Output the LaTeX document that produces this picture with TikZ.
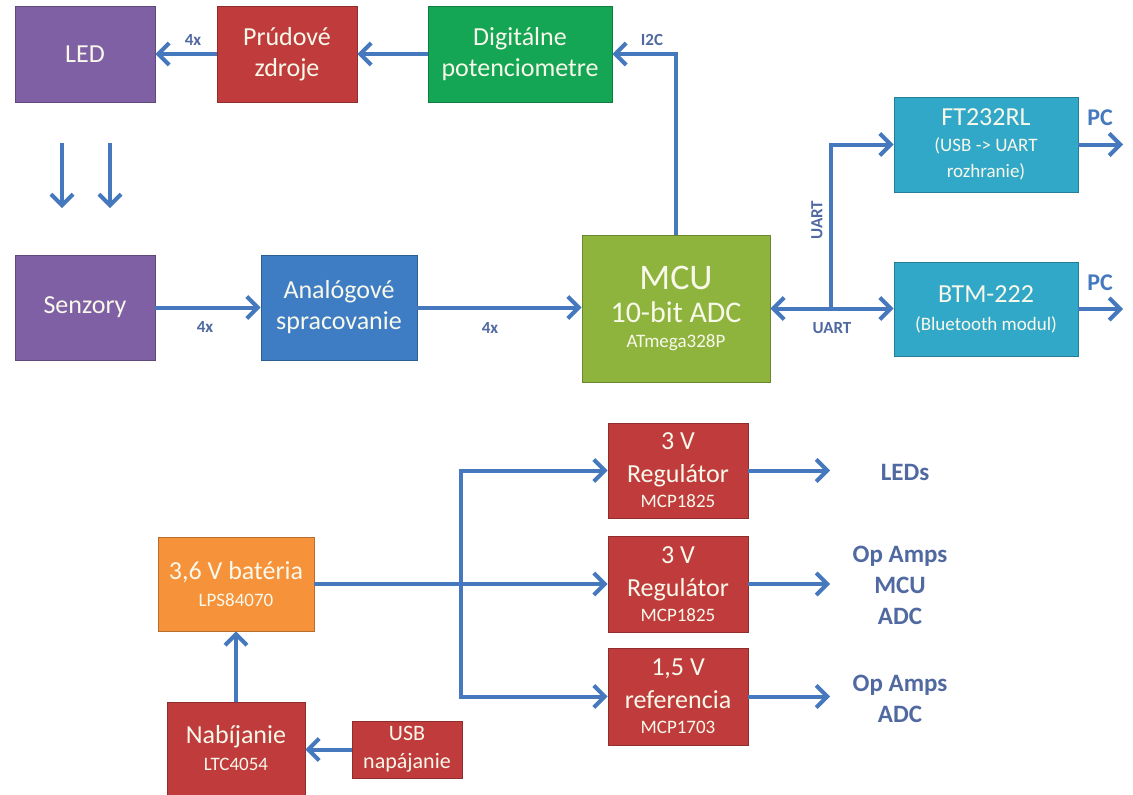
\documentclass[tikz,border=0pt]{standalone}
\usepackage{fontspec}
\setmainfont{Carlito}
\usetikzlibrary{arrows.meta}
\definecolor{cpurple}{RGB}{128,96,164}
\definecolor{cred}{RGB}{192,60,60}
\definecolor{cgreen}{RGB}{20,166,84}
\definecolor{cblue}{RGB}{62,125,195}
\definecolor{cmcu}{RGB}{142,180,62}
\definecolor{cteal}{RGB}{50,168,200}
\definecolor{corange}{RGB}{246,146,58}
\definecolor{arrowc}{RGB}{70,120,190}
\definecolor{lblc}{RGB}{80,105,160}
\definecolor{boxtext}{RGB}{248,248,235}
\newcommand\dgbig{\fontsize{26}{31}\selectfont}
\newcommand\dgsub{\fontsize{19}{22}\selectfont}
\newcommand\dglbl{\fontsize{17}{20}\selectfont\bfseries}
\newcommand\dgout{\fontsize{25}{31}\selectfont\bfseries}
\begin{document}
\begin{tikzpicture}[x=1pt,y=-1pt,
  box/.style={draw=#1!75!black, line width=0.8pt, fill=#1, text=boxtext, align=center, inner sep=0pt, font=\dgbig},
  arr/.style={draw=arrowc, line width=4pt, -{Straight Barb[length=11pt,width=22pt]}},
  dbl/.style={draw=arrowc, line width=4pt, {Straight Barb[length=11pt,width=22pt]}-{Straight Barb[length=11pt,width=22pt]}},
  lbl/.style={text=lblc, font=\dglbl, inner sep=0pt},
  pcl/.style={text=arrowc, font=\fontsize{24}{28}\selectfont\bfseries, inner sep=0pt},
  outl/.style={text=lblc, font=\dgout, align=center, inner sep=0pt}
]
\useasboundingbox (0,0) rectangle (1133,795);
% top row
\node[box=cpurple, minimum width=140pt, minimum height=96pt] (led) at (85,54) {LED};
\node[box=cred, minimum width=140pt, minimum height=96pt] (prud) at (287,54) {Prúdové\\zdroje};
\node[box=cgreen, minimum width=184pt, minimum height=96pt] (digi) at (520,54) {Digitálne\\potenciometre};
% middle row
\node[box=cpurple, minimum width=140pt, minimum height=105pt] (senz) at (85,307.5) {Senzory};
\node[box=cblue, minimum width=156pt, minimum height=105pt] (anal) at (339,307.5) {Analógové\\spracovanie};
\node[box=cmcu, minimum width=188pt, minimum height=147pt] (mcu) at (676,308.5) {{\fontsize{36}{38}\selectfont MCU}\\[2pt]{\fontsize{30}{34}\selectfont 10-bit ADC}\\[-6pt]{\dgsub ATmega328P}};
\node[box=cteal, minimum width=184pt, minimum height=95pt] (ft) at (986,144.5) {FT232RL\\[-5pt]{\dgsub (USB -> UART}\\[-5pt]{\dgsub rozhranie)}};
\node[box=cteal, minimum width=184pt, minimum height=94pt] (btm) at (986,309) {BTM-222\\[-3pt]{\dgsub (Bluetooth modul)}};
% power section
\node[box=corange, minimum width=156pt, minimum height=94pt] (bat) at (236,584) {3,6 V batéria\\[-4pt]{\dgsub LPS84070}};
\node[box=cred, minimum width=138pt, minimum height=93pt] (nab) at (236,748.5) {Nabíjanie\\[-4pt]{\dgsub LTC4054}};
\node[box=cred, minimum width=110pt, minimum height=57pt, font=\fontsize{22}{28}\selectfont] (usb) at (407,749.5) {USB\\napájanie};
\node[box=cred, minimum width=140pt, minimum height=95pt] (reg1) at (678,470.5) {3 V\\[2pt]Regulátor\\[-6pt]{\dgsub MCP1825}};
\node[box=cred, minimum width=140pt, minimum height=96pt] (reg2) at (678,584) {3 V\\[2pt]Regulátor\\[-6pt]{\dgsub MCP1825}};
\node[box=cred, minimum width=140pt, minimum height=97pt] (ref) at (678,696.5) {1,5 V\\[2pt]referencia\\[-6pt]{\dgsub MCP1703}};
% labels
\node[lbl] (l4a) at (193,40) {4x};
\node[lbl] (l4b) at (205,327) {4x};
\node[lbl] (l4c) at (490,328) {4x};
\node[lbl] (li2c) at (652,40) {I2C};
\node[lbl, rotate=90] (lu1) at (817,220) {UART};
\node[lbl] (lu2) at (832,328) {UART};
\node[pcl] (pc1) at (1100,118) {PC};
\node[pcl] (pc2) at (1100,283) {PC};
\node[outl] (o1t) at (905,472) {LEDs};
\node[outl] (o2t) at (900,585) {Op Amps\\MCU\\ADC};
\node[outl] (o3t) at (900,698.5) {Op Amps\\ADC};
% free coordinates
\coordinate (d1s) at (62,143); \coordinate (d1e) at (62,208);
\coordinate (d2s) at (110,143); \coordinate (d2e) at (110,208);
\coordinate (j) at (831,308.5);
\coordinate (pc1e) at (1123,144.5); \coordinate (pc2e) at (1123,309);
\coordinate (bt) at (461,470.5); \coordinate (bb) at (461,696.5);
\coordinate (o1) at (830,470.5); \coordinate (o2) at (830,584); \coordinate (o3) at (830,696.5);
% connectors
\draw[arr] (digi) -- (prud);
\draw[arr] (prud) -- (led);
\draw[arr] (d1s) -- (d1e);
\draw[arr] (d2s) -- (d2e);
\draw[arr] (senz) -- (anal);
\draw[arr] (anal.east) -- (anal.east -| mcu.west);
\draw[arr] (mcu.north) |- (digi.east);
\draw[dbl] (mcu.east) -- (mcu.east -| btm.west);
\draw[arr] (j) |- (ft.west);
\draw[arr] (ft) -- (pc1e);
\draw[arr] (btm) -- (pc2e);
\draw[arr] (nab) -- (bat);
\draw[arr] (usb.west) -- (usb.west -| nab.east);
\draw[arr] (bat) -- (reg2);
\draw[arr] (bb) -- (bt) -- (reg1);
\draw[arr] (bt) -- (bb) -- (ref);
\draw[arr] (reg1) -- (o1);
\draw[arr] (reg2) -- (o2);
\draw[arr] (ref) -- (o3);
\end{tikzpicture}
\end{document}
